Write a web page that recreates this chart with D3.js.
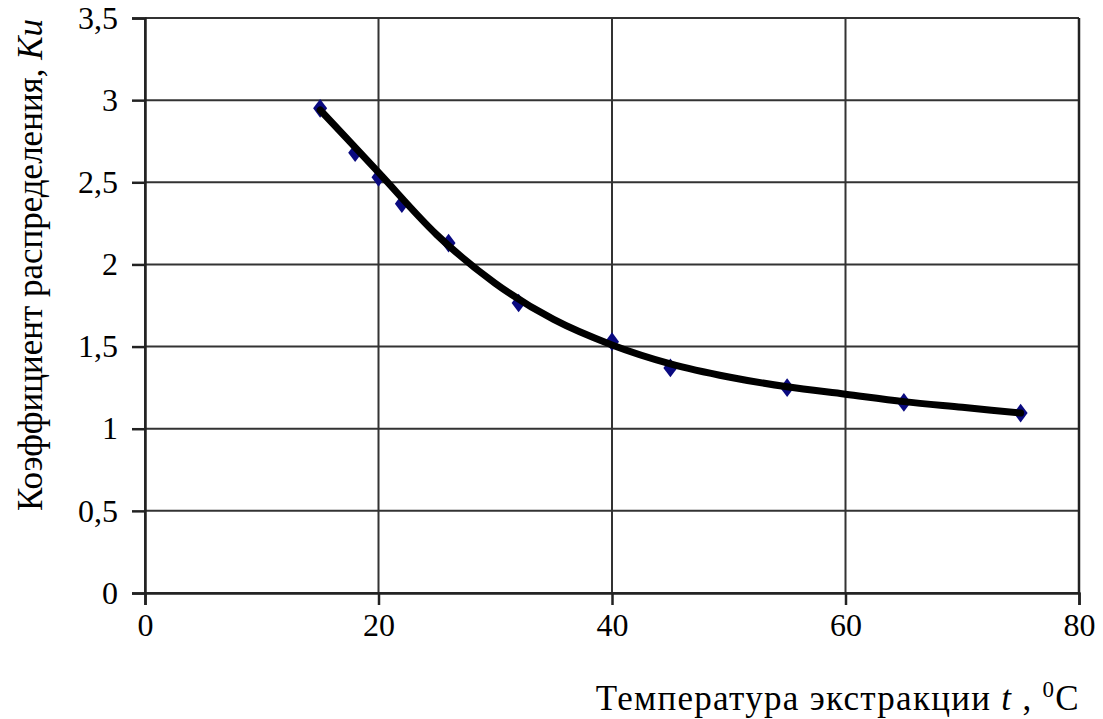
<!DOCTYPE html>
<html><head><meta charset="utf-8">
<script src="https://cdn.jsdelivr.net/npm/d3@7"></script>
<style>body{margin:0;background:#fff;} text{font-family:"Liberation Serif","Times New Roman",serif;}</style>
</head><body>
<svg id="c" width="1103" height="719"></svg>
<script>
// Measured points
const temps = [15, 18, 20, 22, 26, 32, 40, 45, 55, 65, 75];
const kValues = [2.95, 2.68, 2.53, 2.37, 2.13, 1.765, 1.53, 1.37, 1.25, 1.16, 1.095];
// Trend curve
const trendT = [15, 20, 25, 30, 35, 40, 45, 50, 55, 60, 65, 70, 75];
const trendK = [2.94, 2.56, 2.18, 1.885, 1.665, 1.51, 1.395, 1.315, 1.255, 1.21, 1.165, 1.13, 1.095];
const xTicks = [0, 20, 40, 60, 80];
const yTicks = [0, 0.5, 1, 1.5, 2, 2.5, 3, 3.5];

const svg = d3.select("#c");
const L = 145, R = 1079, T = 18, B = 593;
const x = d3.scaleLinear().domain([0, 80]).range([L, R]);
const y = d3.scaleLinear().domain([0, 3.5]).range([B, T]);
const fmt = d => String(d).replace(".", ",");

// grid
const g = svg.append("g");
g.selectAll(".gy").data(yTicks).join("line")
  .attr("x1", L).attr("x2", R).attr("y1", d => y(d)).attr("y2", d => y(d))
  .attr("stroke", "#333").attr("stroke-width", 2);
g.selectAll(".gx").data(xTicks).join("line")
  .attr("x1", d => x(d)).attr("x2", d => x(d)).attr("y1", T).attr("y2", B)
  .attr("stroke", "#333").attr("stroke-width", 2);

// axes
const yAxis = d3.axisLeft(y).tickValues(yTicks).tickFormat(fmt).tickSize(13).tickPadding(14);
const xAxis = d3.axisBottom(x).tickValues(xTicks).tickFormat(fmt).tickSize(12).tickPadding(8);
const ya = svg.append("g").attr("transform", `translate(${L},0)`).call(yAxis);
const xa = svg.append("g").attr("transform", `translate(0,${B})`).call(xAxis);
[ya, xa].forEach(a => {
  a.select(".domain").attr("stroke", "#222").attr("stroke-width", 2.5);
  a.selectAll(".tick line").attr("stroke", "#222").attr("stroke-width", 2.5);
  a.selectAll(".tick text").attr("fill", "#000").style("font-size", "32px")
    .style("font-family", "'Liberation Serif', serif");
});
// right border
svg.append("line").attr("x1", R).attr("x2", R).attr("y1", T).attr("y2", B).attr("stroke", "#222").attr("stroke-width", 2.5);

// markers
const diamond = d3.symbol().type(d3.symbolDiamond).size(100);
svg.append("g").selectAll("path").data(temps.map((t, i) => [t, kValues[i]])).join("path")
  .attr("d", diamond)
  .attr("transform", d => `translate(${x(d[0])},${y(d[1])}) scale(1.3,1)`)
  .attr("fill", "#0a0a80");

// trend line
const line = d3.line().x((d, i) => x(trendT[i])).y(d => y(d)).curve(d3.curveMonotoneX);
svg.append("path").datum(trendK).attr("d", line)
  .attr("fill", "none").attr("stroke", "#000").attr("stroke-width", 7).attr("stroke-linecap", "round");

// y label
const yl = svg.append("text").attr("transform", "translate(42,265) rotate(-90)")
  .attr("text-anchor", "middle").style("font-size", "35px").attr("fill", "#000");
yl.append("tspan").text("Коэффициент распределения, ");
yl.append("tspan").style("font-style", "italic").text("Ku");

// x label
const xl = svg.append("text").attr("x", 1080).attr("y", 710).attr("text-anchor", "end")
  .style("font-size", "35px").style("letter-spacing", "1.3px").attr("fill", "#000");
xl.append("tspan").text("Температура экстракции ");
xl.append("tspan").style("font-style", "italic").text("t");
xl.append("tspan").text(" , ");
xl.append("tspan").attr("dy", -13).style("font-size", "23px").text("0");
xl.append("tspan").attr("dy", 13).text("C");
</script>
</body></html>
